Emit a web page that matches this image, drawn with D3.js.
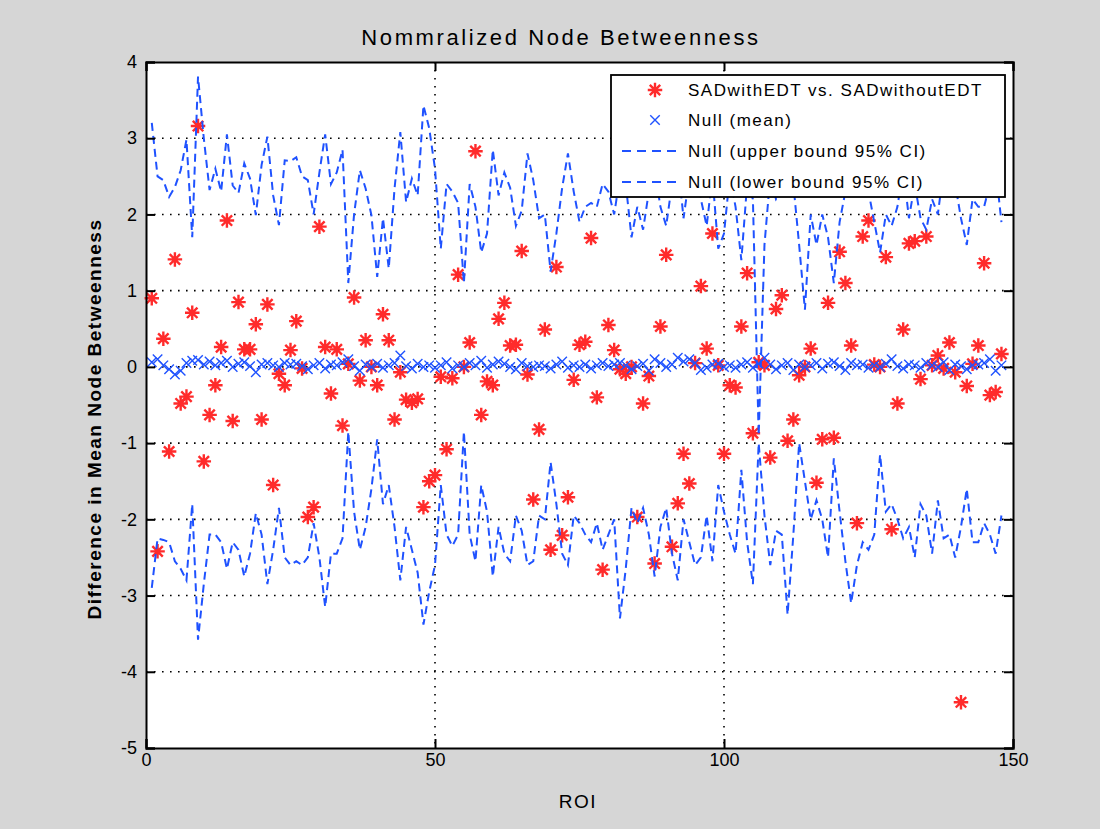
<!DOCTYPE html>
<html>
<head>
<meta charset="utf-8">
<script src="https://cdn.jsdelivr.net/npm/d3@7"></script>
<style>
  body { margin: 0; background: #d6d6d6; }
  svg { display: block; font-family: "Liberation Sans", Arial, Helvetica, sans-serif; }
</style>
</head>
<body>
<svg id="chart" width="1100" height="829"></svg>
<script>
// Observed difference per ROI (SADwithEDT vs. SADwithoutEDT), ROI 1..148
const diffVals = [
  0.90,-2.42,0.37,-1.11,1.41,-0.48,-0.39,0.71,3.16,-1.24,
  -0.63,-0.24,0.26,1.92,-0.71,0.85,0.23,0.23,0.56,-0.69,
  0.82,-1.55,-0.09,-0.24,0.22,0.60,-0.02,-1.97,-1.84,1.84,
  0.26,-0.35,0.23,-0.77,0.04,0.91,-0.18,0.35,0.00,-0.24,
  0.69,0.35,-0.69,-0.07,-0.43,-0.47,-0.42,-1.84,-1.50,-1.42,
  -0.13,-1.08,-0.15,1.21,0.00,0.32,2.83,-0.63,-0.19,-0.24,
  0.63,0.84,0.28,0.29,1.52,-0.10,-1.74,-0.82,0.49,-2.40,
  1.31,-2.21,-1.71,-0.17,0.29,0.33,1.69,-0.40,-2.66,0.55,
  0.22,-0.03,-0.09,0.00,-1.97,-0.48,-0.12,-2.58,0.53,1.47,
  -2.36,-1.79,-1.14,-1.53,0.05,1.06,0.24,1.75,0.02,-1.14,
  -0.24,-0.27,0.53,1.23,-0.87,0.06,0.02,-1.19,0.76,0.94,
  -0.97,-0.69,-0.11,0.00,0.24,-1.52,-0.95,0.84,-0.93,1.51,
  1.10,0.28,-2.05,1.71,1.92,0.03,0.00,1.44,-2.13,-0.48,
  0.49,1.62,1.65,-0.16,1.71,0.02,0.15,-0.02,0.32,-0.07,
  -4.40,-0.25,0.04,0.28,1.36,-0.37,-0.33,0.17
];

// Null distribution mean per ROI
const nullMean = [
  0.06,0.10,0.02,-0.03,-0.10,-0.05,0.05,0.08,0.09,0.03,
  0.07,0.02,0.05,0.08,0.00,0.04,0.06,0.01,-0.07,0.03,
  0.05,0.02,0.00,0.05,0.03,0.04,0.01,-0.03,0.02,0.05,
  -0.02,0.03,0.02,0.06,0.10,0.01,-0.05,0.03,0.00,0.04,
  -0.01,0.02,0.05,0.15,0.01,-0.02,0.04,0.00,0.02,-0.01,
  0.02,0.06,-0.02,0.02,0.00,0.05,0.02,0.08,-0.01,0.03,
  0.07,0.04,0.00,-0.03,0.05,0.01,0.00,0.02,0.01,-0.02,
  0.03,0.07,-0.01,0.02,0.00,0.03,-0.02,0.02,0.05,0.01,
  0.03,0.05,0.02,-0.03,0.01,0.04,-0.05,0.10,0.05,0.00,
  0.03,0.12,0.07,0.10,0.05,-0.04,-0.01,0.03,0.04,0.00,
  0.02,-0.01,0.03,0.06,-0.01,0.04,0.12,0.03,-0.03,0.02,
  0.05,-0.04,0.03,0.00,0.02,0.05,-0.02,0.04,0.06,0.01,
  -0.04,0.05,0.02,0.03,-0.01,0.02,0.00,0.04,0.10,0.01,
  -0.02,0.03,0.02,-0.01,0.05,0.02,0.00,0.06,-0.04,0.03,
  0.01,-0.03,0.02,0.03,0.05,0.10,-0.05,0.02
];

// Null distribution upper bound of the 95% CI
const nullUpper = [
  3.20,2.50,2.45,2.23,2.36,2.58,2.98,1.70,3.81,3.00,
  2.32,2.60,2.30,3.05,2.38,2.28,2.67,2.47,1.99,2.65,
  3.02,2.25,1.86,2.71,2.70,2.75,2.50,2.45,2.00,2.55,
  3.05,2.40,2.55,2.85,1.10,2.00,2.58,2.34,1.99,1.18,
  1.95,1.29,2.34,3.08,2.16,2.47,2.25,3.43,3.13,2.60,
  1.55,2.40,2.30,2.15,1.10,2.40,2.10,1.50,1.75,2.85,
  2.25,2.55,2.35,1.85,2.05,2.80,2.45,1.95,2.00,1.25,
  1.75,2.35,2.80,2.30,1.90,2.10,2.15,2.10,2.40,2.30,
  2.00,2.50,2.40,1.70,2.10,1.80,2.30,2.60,2.10,1.85,
  2.40,2.70,1.95,2.50,2.80,2.20,1.85,2.50,1.55,1.75,
  2.50,2.10,1.40,2.40,2.20,-0.90,1.60,2.50,2.20,2.30,
  2.60,2.40,1.60,0.75,2.00,1.60,2.00,1.70,1.10,1.90,
  2.30,2.70,2.40,2.80,2.30,1.90,1.50,2.00,1.85,2.10,
  2.60,1.95,2.40,1.95,1.80,2.20,2.00,2.60,2.80,2.40,
  1.95,1.60,2.20,2.10,2.10,2.40,2.60,1.90
];

// Null distribution lower bound of the 95% CI
const nullLower = [
  -2.90,-2.25,-2.27,-2.30,-2.55,-2.65,-2.80,-1.80,-3.58,-2.85,
  -2.20,-2.20,-2.30,-2.65,-2.30,-2.40,-2.75,-2.45,-1.92,-2.20,
  -2.85,-2.40,-1.85,-2.50,-2.60,-2.55,-2.60,-2.50,-2.05,-2.50,
  -3.15,-2.45,-2.45,-2.25,-0.85,-1.90,-2.40,-2.10,-1.60,-0.95,
  -1.80,-1.55,-2.10,-2.80,-2.10,-2.40,-2.70,-3.38,-2.95,-2.60,
  -1.55,-2.20,-2.35,-2.20,-0.85,-2.20,-2.55,-1.55,-1.90,-2.75,
  -2.10,-2.45,-2.55,-1.95,-2.15,-2.60,-2.55,-1.95,-2.00,-1.25,
  -1.80,-2.45,-2.60,-1.95,-2.05,-2.20,-2.30,-2.05,-2.40,-2.20,
  -2.00,-3.30,-2.65,-1.85,-2.05,-1.85,-2.20,-2.75,-2.10,-1.85,
  -2.45,-2.80,-2.00,-2.30,-2.60,-2.50,-1.95,-2.55,-1.55,-1.90,
  -2.20,-2.45,-1.35,-2.30,-2.85,-1.00,-1.95,-2.60,-2.15,-2.20,
  -3.25,-2.20,-1.00,-1.50,-2.00,-1.75,-2.00,-2.50,-1.20,-1.90,
  -2.55,-3.10,-2.60,-2.30,-2.40,-2.20,-1.15,-1.90,-1.80,-2.00,
  -2.25,-2.10,-2.50,-1.80,-1.95,-2.45,-1.75,-2.25,-2.20,-2.50,
  -2.10,-1.60,-2.30,-2.30,-2.05,-2.20,-2.45,-1.95
];

const xTicks = [0, 50, 100, 150];
const yTicks = [-5, -4, -3, -2, -1, 0, 1, 2, 3, 4];
const legendLabels = [
  "SADwithEDT vs. SADwithoutEDT",
  "Null (mean)",
  "Null (upper bound 95% CI)",
  "Null (lower bound 95% CI)"
];

const RED = "#ff2b2b";
const BLUE = "#1f52ff";

const svg = d3.select("#chart");
const x = d3.scaleLinear().domain([0, 150]).range([146, 1013]);
const y = d3.scaleLinear().domain([-5, 4]).range([748, 62]);
const roi = i => i + 1;

// white plotting area
svg.append("rect")
  .attr("x", x(0)).attr("y", y(4))
  .attr("width", x(150) - x(0)).attr("height", y(-5) - y(4))
  .attr("fill", "#fff");

// dotted grid
const grid = svg.append("g").attr("stroke", "#000").attr("stroke-width", 1.6)
  .attr("stroke-dasharray", "1.6,6.4");
grid.selectAll("line.gx").data(xTicks.filter(t => t > 0 && t < 150)).join("line")
  .attr("x1", d => x(d)).attr("x2", d => x(d))
  .attr("y1", y(4)).attr("y2", y(-5));
grid.selectAll("line.gy").data(yTicks.filter(t => t > -5 && t < 4)).join("line")
  .attr("y1", d => y(d)).attr("y2", d => y(d))
  .attr("x1", x(0)).attr("x2", x(150));

// symbol types: asterisk and cross
const asterisk = {
  draw(ctx, size) {
    const r = Math.sqrt(size) / 2, d = r * 0.72;
    ctx.moveTo(-r, 0); ctx.lineTo(r, 0);
    ctx.moveTo(0, -r); ctx.lineTo(0, r);
    ctx.moveTo(-d, -d); ctx.lineTo(d, d);
    ctx.moveTo(-d, d); ctx.lineTo(d, -d);
  }
};
const cross = {
  draw(ctx, size) {
    const r = Math.sqrt(size) / 2;
    ctx.moveTo(-r, -r); ctx.lineTo(r, r);
    ctx.moveTo(-r, r); ctx.lineTo(r, -r);
  }
};
const starPath = d3.symbol().type(asterisk).size(210)();
const crossPath = d3.symbol().type(cross).size(90)();

// observed values
const plot = svg.append("g");
plot.append("g").selectAll("path").data(diffVals).join("path")
  .attr("d", starPath)
  .attr("transform", (d, i) => `translate(${x(roi(i))},${y(d)})`)
  .attr("fill", "none").attr("stroke", RED).attr("stroke-width", 2.4);

// null mean
plot.append("g").selectAll("path").data(nullMean).join("path")
  .attr("d", crossPath)
  .attr("transform", (d, i) => `translate(${x(roi(i))},${y(d)})`)
  .attr("fill", "none").attr("stroke", BLUE).attr("stroke-width", 1.4);

// CI bounds
const line = d3.line().x((d, i) => x(roi(i))).y(d => y(d));
[nullUpper, nullLower].forEach(arr => {
  plot.append("path").datum(arr)
    .attr("d", line)
    .attr("fill", "none").attr("stroke", BLUE)
    .attr("stroke-width", 2).attr("stroke-dasharray", "8,5");
});

// axes with inward ticks on all four sides
const fontSize = 18;
const plain = d => String(d);
const axB = svg.append("g").attr("transform", `translate(0,${y(-5)})`)
  .call(d3.axisBottom(x).tickValues(xTicks).tickSize(-9).tickPadding(5).tickFormat(plain));
const axL = svg.append("g").attr("transform", `translate(${x(0)},0)`)
  .call(d3.axisLeft(y).tickValues(yTicks).tickSize(-9).tickPadding(9).tickFormat(plain));
const axT = svg.append("g").attr("transform", `translate(0,${y(4)})`)
  .call(d3.axisTop(x).tickValues(xTicks).tickSize(-9).tickFormat(""));
const axR = svg.append("g").attr("transform", `translate(${x(150)},0)`)
  .call(d3.axisRight(y).tickValues(yTicks).tickSize(-9).tickFormat(""));
[axB, axL, axT, axR].forEach(g => {
  g.select(".domain").attr("stroke", "#000").attr("stroke-width", 2);
  g.selectAll(".tick line").attr("stroke", "#000").attr("stroke-width", 2);
  g.selectAll(".tick text").attr("fill", "#000")
    .style("font-size", fontSize + "px")
    .style("font-family", "'Liberation Sans', Arial, sans-serif");
});

// titles
svg.append("text").attr("x", 561).attr("y", 45)
  .attr("text-anchor", "middle").style("font-size", "22px").style("letter-spacing", "2.6px")
  .text("Nommralized Node Betweenness");
svg.append("text").attr("x", 578).attr("y", 808)
  .attr("text-anchor", "middle").style("font-size", "19px").style("letter-spacing", "1.5px")
  .text("ROI");
svg.append("text")
  .attr("transform", "translate(101,419) rotate(-90)")
  .attr("text-anchor", "middle").style("font-size", "19px").style("font-weight", "bold")
  .style("letter-spacing", "1.5px")
  .text("Difference in Mean Node Betweenness");

// legend
const lg = svg.append("g").attr("transform", "translate(611,75)");
lg.append("rect").attr("width", 394).attr("height", 122)
  .attr("fill", "#fff").attr("stroke", "#000").attr("stroke-width", 1.8);
const rowY = [15, 45, 76, 107];
legendLabels.forEach((label, i) => {
  const row = lg.append("g").attr("transform", `translate(0,${rowY[i]})`);
  if (i === 0) {
    row.append("path").attr("d", starPath).attr("transform", "translate(44,0)")
      .attr("fill", "none").attr("stroke", RED).attr("stroke-width", 2.4);
  } else if (i === 1) {
    row.append("path").attr("d", crossPath).attr("transform", "translate(44,0)")
      .attr("fill", "none").attr("stroke", BLUE).attr("stroke-width", 1.4);
  } else {
    row.append("line").attr("x1", 11).attr("x2", 66)
      .attr("stroke", BLUE).attr("stroke-width", 2).attr("stroke-dasharray", "9,6");
  }
  row.append("text").attr("x", 77).attr("dy", "0.35em")
    .style("font-size", "17px").style("letter-spacing", "1.5px").text(label);
});
</script>
</body>
</html>
